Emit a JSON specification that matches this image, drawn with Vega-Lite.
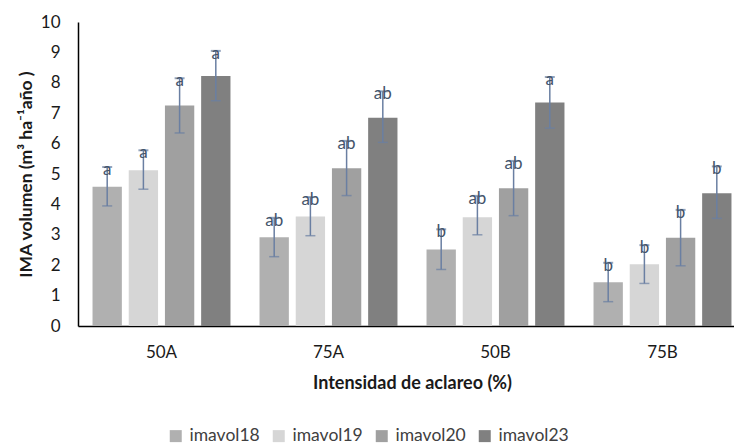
{
  "$schema": "https://vega.github.io/schema/vega-lite/v6.json",
  "width": 656,
  "height": 304,
  "autosize": {"type": "none"},
  "padding": {"left": 78, "top": 22, "right": 0, "bottom": 122},
  "background": "white",
  "config": {
    "font": "Lato",
    "view": {"stroke": null},
    "axis": {"grid": false},
    "axisY": {"labelOverlap": false, "labelFontSize": 17, "labelColor": "#1a1a1a", "labelPadding": 18, "ticks": false, "domainColor": "#000000", "domainWidth": 1.5, "titleFontSize": 17.5, "titleFontWeight": "bold", "titleColor": "#1a1a1a", "titlePadding": 5}
  },
  "data": {
    "values": [
      {"trat": "50A", "serie": "imavol18", "v": 4.58, "lo": 3.95, "hi": 5.23, "letra": "a"},
      {"trat": "50A", "serie": "imavol19", "v": 5.12, "lo": 4.5, "hi": 5.78, "letra": "a"},
      {"trat": "50A", "serie": "imavol20", "v": 7.25, "lo": 6.35, "hi": 8.15, "letra": "a"},
      {"trat": "50A", "serie": "imavol23", "v": 8.22, "lo": 7.41, "hi": 9.05, "letra": "a"},
      {"trat": "75A", "serie": "imavol18", "v": 2.92, "lo": 2.28, "hi": 3.56, "letra": "ab"},
      {"trat": "75A", "serie": "imavol19", "v": 3.6, "lo": 2.97, "hi": 4.24, "letra": "ab"},
      {"trat": "75A", "serie": "imavol20", "v": 5.19, "lo": 4.29, "hi": 6.09, "letra": "ab"},
      {"trat": "75A", "serie": "imavol23", "v": 6.85, "lo": 6.04, "hi": 7.72, "letra": "ab"},
      {"trat": "50B", "serie": "imavol18", "v": 2.52, "lo": 1.86, "hi": 3.18, "letra": "b"},
      {"trat": "50B", "serie": "imavol19", "v": 3.58, "lo": 3.0, "hi": 4.28, "letra": "ab"},
      {"trat": "50B", "serie": "imavol20", "v": 4.53, "lo": 3.63, "hi": 5.43, "letra": "ab"},
      {"trat": "50B", "serie": "imavol23", "v": 7.35, "lo": 6.51, "hi": 8.19, "letra": "a"},
      {"trat": "75B", "serie": "imavol18", "v": 1.44, "lo": 0.8, "hi": 2.08, "letra": "b"},
      {"trat": "75B", "serie": "imavol19", "v": 2.03, "lo": 1.4, "hi": 2.66, "letra": "b"},
      {"trat": "75B", "serie": "imavol20", "v": 2.9, "lo": 1.98, "hi": 3.82, "letra": "b"},
      {"trat": "75B", "serie": "imavol23", "v": 4.37, "lo": 3.54, "hi": 5.25, "letra": "b"}
    ]
  },
  "encoding": {
    "x": {
      "field": "trat",
      "type": "nominal",
      "sort": ["50A", "75A", "50B", "75B"],
      "scale": {"paddingInner": 0.174, "paddingOuter": 0.087, "range": [0, 668]},
      "axis": {
        "title": "Intensidad de aclareo (%)",
        "titleFontSize": 18,
        "titleFontWeight": "bold",
        "titleColor": "#1a1a1a",
        "titlePadding": 14,
        "labelAngle": 0,
        "labelFontSize": 17,
        "labelColor": "#1a1a1a",
        "labelPadding": 18,
        "ticks": false,
        "domainColor": "#000000",
        "domainWidth": 1.5
      }
    },
    "xOffset": {
      "field": "serie",
      "type": "nominal",
      "sort": ["imavol18", "imavol19", "imavol20", "imavol23"],
      "scale": {"paddingInner": 0.19, "paddingOuter": 0}
    }
  },
  "layer": [
    {
      "mark": {"type": "bar"},
      "encoding": {
        "y": {
          "field": "v",
          "type": "quantitative",
          "scale": {"domain": [0, 10], "nice": false},
          "axis": {"title": "IMA volumen (m³ ha⁻¹año )", "values": [0, 1, 2, 3, 4, 5, 6, 7, 8, 9, 10], "labelOverlap": false}
        },
        "color": {
          "field": "serie",
          "type": "nominal",
          "sort": ["imavol18", "imavol19", "imavol20", "imavol23"],
          "scale": {"range": ["#b0b0b0", "#d6d6d6", "#a0a0a0", "#808080"]},
          "legend": {
            "title": null,
            "orient": "none",
            "direction": "horizontal",
            "legendX": 89,
            "legendY": 405,
            "symbolType": "square",
            "symbolSize": 144,
            "symbolStrokeWidth": 0,
            "labelFontSize": 17.5,
            "labelColor": "#404040",
            "columnPadding": 10,
            "labelOffset": 5
          }
        }
      }
    },
    {
      "mark": {"type": "rule", "color": "#6a7fa2", "strokeWidth": 1.5},
      "encoding": {
        "y": {"field": "lo", "type": "quantitative", "axis": {"title": "IMA volumen (m³ ha⁻¹año )", "values": [0, 1, 2, 3, 4, 5, 6, 7, 8, 9, 10], "labelOverlap": false}},
        "y2": {"field": "hi"}
      }
    },
    {
      "mark": {"type": "tick", "color": "#6a7fa2", "thickness": 1.5, "size": 10},
      "encoding": {"y": {"field": "lo", "type": "quantitative", "axis": {"title": "IMA volumen (m³ ha⁻¹año )", "values": [0, 1, 2, 3, 4, 5, 6, 7, 8, 9, 10], "labelOverlap": false}}}
    },
    {
      "mark": {"type": "tick", "color": "#6a7fa2", "thickness": 2, "size": 10},
      "encoding": {"y": {"field": "hi", "type": "quantitative", "axis": {"title": "IMA volumen (m³ ha⁻¹año )", "values": [0, 1, 2, 3, 4, 5, 6, 7, 8, 9, 10], "labelOverlap": false}}}
    },
    {
      "mark": {"type": "text", "fontSize": 17, "color": "#44546a", "baseline": "middle", "dy": 3},
      "encoding": {
        "y": {"field": "hi", "type": "quantitative", "axis": {"title": "IMA volumen (m³ ha⁻¹año )", "values": [0, 1, 2, 3, 4, 5, 6, 7, 8, 9, 10], "labelOverlap": false}},
        "text": {"field": "letra"}
      }
    }
  ]
}
